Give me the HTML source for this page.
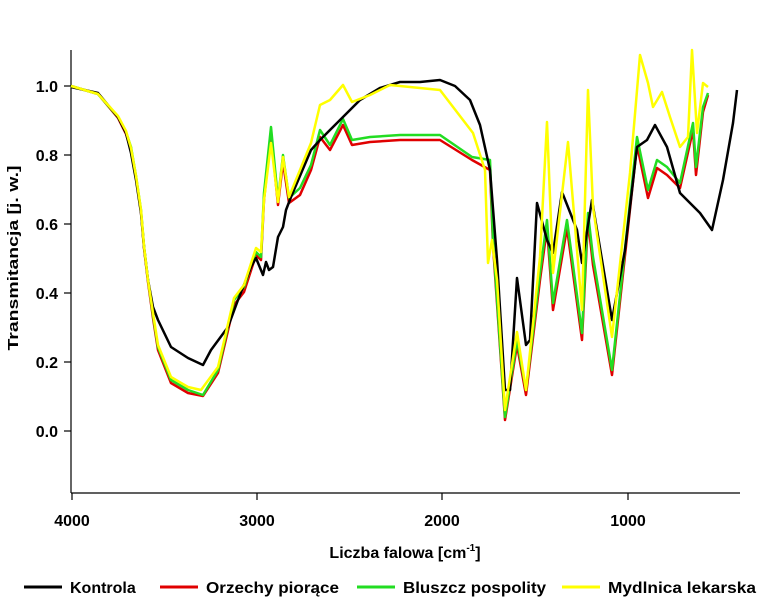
<!DOCTYPE html>
<html><head><meta charset="utf-8"><style>body{margin:0;background:#fff}svg{display:block}text{font-family:"Liberation Sans",Arial,sans-serif;font-weight:bold;fill:#000}</style></head><body>
<svg width="763" height="600" viewBox="0 0 763 600">
<g stroke="#000" stroke-width="1.2" fill="none">
<line x1="71" y1="50" x2="71" y2="493"/><line x1="71" y1="493" x2="740" y2="493"/>
<line x1="64" y1="86" x2="71" y2="86"/><line x1="64" y1="155" x2="71" y2="155"/><line x1="64" y1="224" x2="71" y2="224"/><line x1="64" y1="293" x2="71" y2="293"/><line x1="64" y1="362" x2="71" y2="362"/><line x1="64" y1="431" x2="71" y2="431"/>
<line x1="72" y1="493" x2="72" y2="500"/><line x1="257" y1="493" x2="257" y2="500"/><line x1="442" y1="493" x2="442" y2="500"/><line x1="628" y1="493" x2="628" y2="500"/>
</g>
<g font-size="16" text-anchor="end"><text x="58" y="92">1.0</text><text x="58" y="161">0.8</text><text x="58" y="230">0.6</text><text x="58" y="299">0.4</text><text x="58" y="368">0.2</text><text x="58" y="437">0.0</text></g>
<g font-size="16" text-anchor="middle"><text x="72" y="526">4000</text><text x="257" y="526">3000</text><text x="442" y="526">2000</text><text x="628" y="526">1000</text>
<text x="405" y="558" font-size="16">Liczba falowa [cm<tspan font-size="10" dy="-7">-1</tspan><tspan dy="7">]</tspan></text>
<text transform="translate(18,258) rotate(-90)" font-size="15" textLength="185" lengthAdjust="spacingAndGlyphs">Transmitancja [j. w.]</text></g>
<g fill="none" stroke-width="2.5" stroke-linejoin="round">
<polyline stroke="#e00000" points="71,86 98,94 118,118 126,134 131,150 136,178 141,212 144,248 148,282 153,318 158,350 171,383 188,393 203,396 218,373 234,305 244,292 256,255 261,260 264,200 271,135 278,205 283,162 289,203 300,195 311,170 320,137 330,150 343,125 352,145 370,142 400,140 440,140 472,160 490,170 493,245 505,420 517,345 526,395 540,280 547,228 553,310 567,228 582,340 588,220 593,265 612,375 637,145 648,198 657,168 667,175 680,188 693,130 696,175 703,112 708,95"/>
<polyline stroke="#22dd22" points="71,86 98,94 118,117 126,132 131,147 136,176 141,210 144,246 148,280 153,315 158,347 171,380 188,390 203,395 218,370 234,300 244,287 256,252 261,257 264,193 271,127 278,200 283,155 289,198 300,188 311,165 320,130 330,145 343,119 352,140 370,137 400,135 440,135 472,157 490,160 493,240 505,417 517,340 526,390 540,273 547,220 553,303 567,220 582,333 588,213 593,257 612,370 637,137 648,190 657,160 667,167 680,183 693,123 696,167 703,107 708,93"/>
<polyline stroke="#000" points="71,87 98,93 118,117 126,133 131,153 136,180 141,213 144,247 148,280 153,307 158,320 171,347 188,358 203,365 211,350 228,327 238,300 251,267 256,258 263,275 266,262 269,270 273,267 278,237 283,227 286,210 291,197 311,150 320,140 340,120 360,100 380,88 400,82 420,82 440,80 455,86 470,100 480,125 490,170 497,260 505,390 510,390 517,278 526,345 530,340 537,203 547,240 553,253 562,192 577,230 582,263 592,200 612,320 625,250 637,147 647,140 655,125 667,147 680,193 700,213 712,230 723,180 733,123 737,90"/>
<polyline stroke="#ffff00" points="71,86 98,94 118,116 126,131 131,148 136,176 141,210 144,246 148,280 153,313 158,345 171,377 188,387 201,390 218,367 234,298 244,285 256,248 261,252 264,200 271,143 278,202 283,157 289,197 300,170 311,143 320,105 330,100 343,85 352,102 370,95 390,85 420,88 440,90 473,133 485,170 488,263 492,240 497,280 505,410 517,332 526,390 540,257 547,122 553,273 568,142 582,310 588,90 593,207 612,337 630,173 640,55 648,83 653,107 662,92 670,117 680,147 688,137 692,50 697,133 703,83 708,87"/>
</g>
<g stroke-width="3"><line x1="24" y1="587" x2="62" y2="587" stroke="#000"/><line x1="160" y1="587" x2="198" y2="587" stroke="#e00000"/><line x1="357" y1="587" x2="395" y2="587" stroke="#22dd22"/><line x1="562" y1="587" x2="600" y2="587" stroke="#ffff00"/></g>
<g font-size="16"><text x="70" y="593">Kontrola</text><text x="206" y="593" textLength="133" lengthAdjust="spacingAndGlyphs">Orzechy piorące</text><text x="403" y="593" textLength="143" lengthAdjust="spacingAndGlyphs">Bluszcz pospolity</text><text x="608" y="593" textLength="148" lengthAdjust="spacingAndGlyphs">Mydlnica lekarska</text></g>
</svg>
</body></html>
